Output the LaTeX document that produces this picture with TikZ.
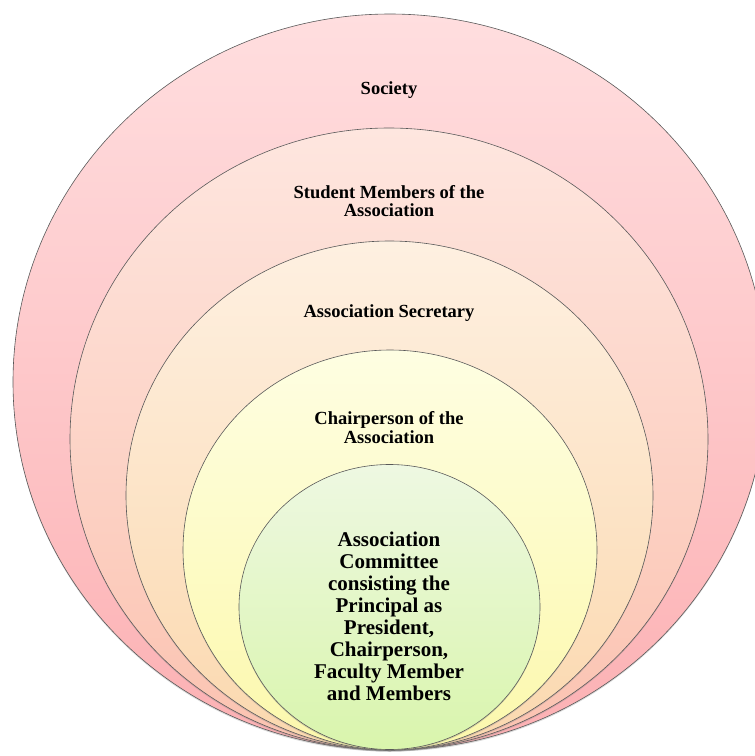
\documentclass[tikz,border=0pt]{standalone}
\usepackage{fontspec}
\setmainfont{Liberation Serif}
\usetikzlibrary{shapes.geometric,shadows}
\definecolor{ringA}{HTML}{FFDEDF}
\definecolor{ringAb}{HTML}{FCB0B3}
\definecolor{ringB}{HTML}{FEE6DF}
\definecolor{ringBb}{HTML}{FBC2B0}
\definecolor{ringC}{HTML}{FEF0E1}
\definecolor{ringCb}{HTML}{FBD8AE}
\definecolor{ringD}{HTML}{FEFEE2}
\definecolor{ringDb}{HTML}{FCF8AC}
\definecolor{ringE}{HTML}{EEF8E2}
\definecolor{ringEb}{HTML}{D9F5AC}
\begin{document}
\begin{tikzpicture}[x=1pt, y=-1pt,
    ring/.style={ellipse, draw=black!65, line width=0.6pt, inner sep=0pt,
      drop shadow={opacity=0.3, shadow xshift=0pt, shadow yshift=-1.5pt}},
    lbl/.style={align=center, font=\fontsize{18.5}{18.5}\selectfont\bfseries, inner sep=0pt},
    biglbl/.style={align=center, font=\fontsize{21}{22}\selectfont\bfseries, inner sep=0pt}
  ]
    \useasboundingbox (0,0) rectangle (755,756);
    \clip (0,0) rectangle (755,756);

    % nested rings, all touching at the bottom
    \node[ring, top color=ringA, bottom color=ringAb, minimum width=754pt, minimum height=736pt] at (390, 382)   (society)  {};
    \node[ring, top color=ringB, bottom color=ringBb, minimum width=638pt, minimum height=622pt] at (389, 439)   (students) {};
    \node[ring, top color=ringC, bottom color=ringCb, minimum width=527pt, minimum height=509pt] at (389.5, 495.5) (secretary) {};
    \node[ring, top color=ringD, bottom color=ringDb, minimum width=414pt, minimum height=400pt] at (390, 550)   (chair)    {};
    \node[ring, top color=ringE, bottom color=ringEb, minimum width=301pt, minimum height=285pt] at (389.5, 607) (committee) {};

    % labels
    \node[lbl]    at (389, 90)    (societyTxt)   {Society};
    \node[lbl]    at (389, 201)   (studentsTxt)  {Student Members of the\\Association};
    \node[lbl]    at (389, 313)   (secretaryTxt) {Association Secretary};
    \node[lbl]    at (389, 427.5) (chairTxt)     {Chairperson of the\\Association};
    \node[biglbl] at (389, 616)   (committeeTxt) {Association\\Committee\\consisting the\\Principal as\\President,\\Chairperson,\\Faculty Member\\and Members};
  \end{tikzpicture}
\end{document}
